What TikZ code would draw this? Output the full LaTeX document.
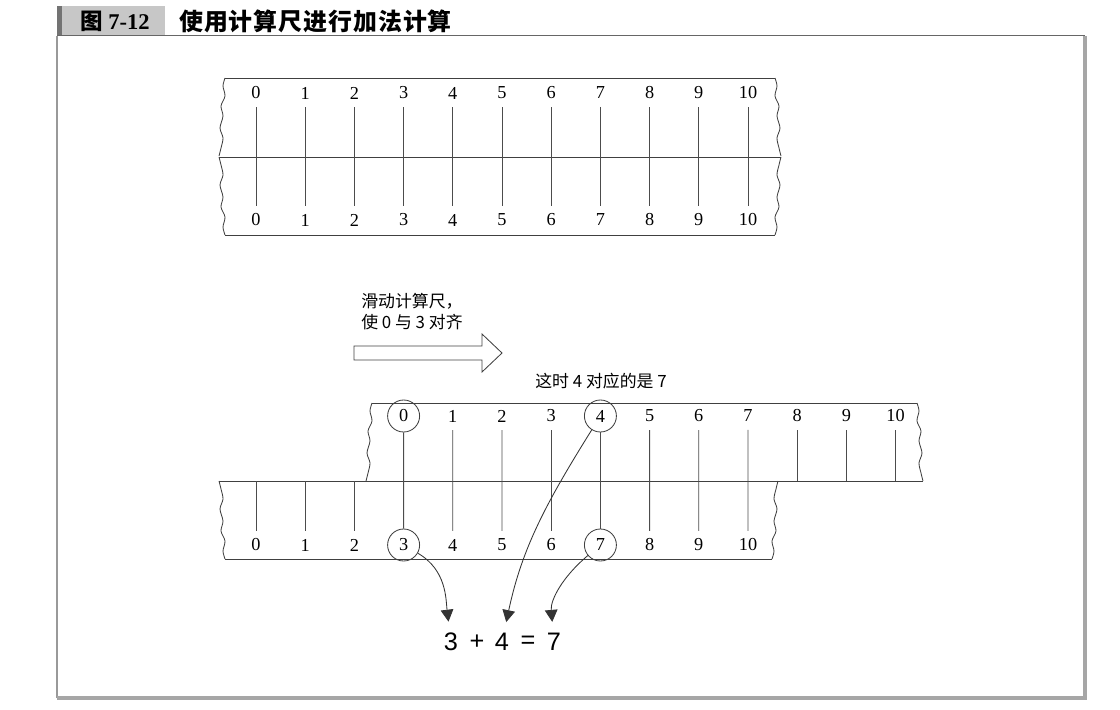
\documentclass[tikz,border=0pt]{standalone}
\usepackage{fontspec}
\setmainfont{Liberation Serif}
\setsansfont{Liberation Sans}
\newfontfamily\cjk{Noto Sans CJK SC}
\newfontfamily\cjkhead[LetterSpace=4]{Noto Sans CJK SC}
\usepackage{tikz}
\usetikzlibrary{arrows.meta}

\begin{document}
\begin{tikzpicture}[x=0.025cm, y=-0.025cm,
    edge/.style={draw=black!75, line width=0.6pt},
    tick/.style={draw=black!70, line width=0.6pt},
    digit/.style={inner sep=0pt, outer xsep=0pt, outer ysep=0.2cm, font=\fontsize{13}{13}\selectfont},
    ring/.style={circle, draw=black!75, line width=0.6pt, minimum size=0.8cm, inner sep=0pt},
    pointer/.style={draw=black!80, line width=0.6pt, -{Triangle[width=9pt, length=8.5pt]}, shorten >=0.28cm},
    sign/.style={inner sep=0pt, font=\sffamily\fontsize{18}{18}\selectfont},
    note/.style={inner sep=0pt, font=\cjk\fontsize{12}{15}\selectfont},
    tear/.pic={\draw[edge] plot[smooth] coordinates {(0,0) (-2,8) (0,18) (-4,28) (-2,38) (-5,50) (-2,60) (-4,70) (-6,78)};}]
    \useasboundingbox (0,0) rectangle (1120,710);

    % caption bar and frame
    \fill[black!22] (57,6) rectangle (165,35);
    \fill[black!55] (57,6) rectangle (62,35);
    \node[inner sep=0pt, font=\bfseries\fontsize{16}{16}\selectfont] (fignum) at (115,21) {{\cjk\bfseries 图} 7-12};
    \node[inner sep=0pt, anchor=west, font=\cjkhead\bfseries\fontsize{17}{17}\selectfont] (figtitle) at (179,21) {使用计算尺进行加法计算};
    \draw[black!60, line width=1.2pt] (57,35.5) -- (1085,35.5);
    \draw[black!40, line width=1pt] (57,35.5) -- (57,698);
    \draw[black!35, line width=2.2pt] (57,698) -- (1085,698) -- (1085,35.5);

    % slide rule at rest
    \draw[edge] (225,78) -- (775,78);
    \draw[edge] (219,157) -- (781,157);
    \draw[edge] (225,235) -- (775,235);
    \pic at (225,78) {tear};
    \pic[yscale=-1] at (225,235) {tear};
    \pic[xscale=-1] at (775,78) {tear};
    \pic[xscale=-1, yscale=-1] at (775,235) {tear};
    \foreach \i in {0,...,10} {
        \node[digit] (t\i) at (256+49.2*\i,93) {\i};
        \node[digit] (b\i) at (256+49.2*\i,220) {\i};
        \draw[tick] (t\i) -- (b\i);
    }

    % the slide
    \draw[edge] (354,346) -- (482,346) -- (482,334) -- (502,353) -- (482,372) -- (482,360) -- (354,360) -- cycle;
    \node[note, anchor=north west, align=left] (hint) at (361,293) {滑动计算尺，\\使 0 与 3 对齐};
    \node[note] (result) at (601,381) {这时 4 对应的是 7};

    % slide rule after sliding
    \coordinate (mid) at (0,481);
    \draw[edge] (372,403) -- (917,403);
    \draw[edge] (219,481) -- (923,481);
    \draw[edge] (225,559) -- (772,559);
    \pic at (372,403) {tear};
    \pic[xscale=-1] at (917,403) {tear};
    \pic[yscale=-1] at (225,559) {tear};
    \pic[xscale=-1, yscale=-1] at (772,559) {tear};
    \foreach \i in {0,...,10} {
        \node[digit] (u\i) at (403.6+49.2*\i,416) {\i};
        \node[digit] (l\i) at (256+49.2*\i,545) {\i};
    }
    \node[ring] (c0) at (u0) {};
    \node[ring] (c4) at (u4) {};
    \node[ring] (c3) at (l3) {};
    \node[ring] (c7) at (l7) {};
    \draw[tick] (c0) -- (c3);
    \draw[tick] (c4) -- (c7);
    \foreach \i/\j in {1/4,2/5,3/6,5/8,6/9,7/10} \draw[tick] (u\i) -- (l\j);
    \foreach \i in {8,9,10} \draw[tick] (u\i) -- (u\i |- mid);
    \foreach \i in {0,1,2} \draw[tick] (l\i) -- (l\i |- mid);

    % the sum
    \node[sign] (e3) at (451,642) {3};
    \node[sign] (plus) at (477,642) {+};
    \node[sign] (e4) at (502,642) {4};
    \node[sign] (eq) at (528,642) {=};
    \node[sign] (e7) at (554,642) {7};
    \draw[pointer] (c3) to[out=-30, in=97] (e3);
    \draw[pointer] (c4) to[out=238, in=78] (e4);
    \draw[pointer] (c7) to[out=220, in=95] (e7);
\end{tikzpicture}
\end{document}
